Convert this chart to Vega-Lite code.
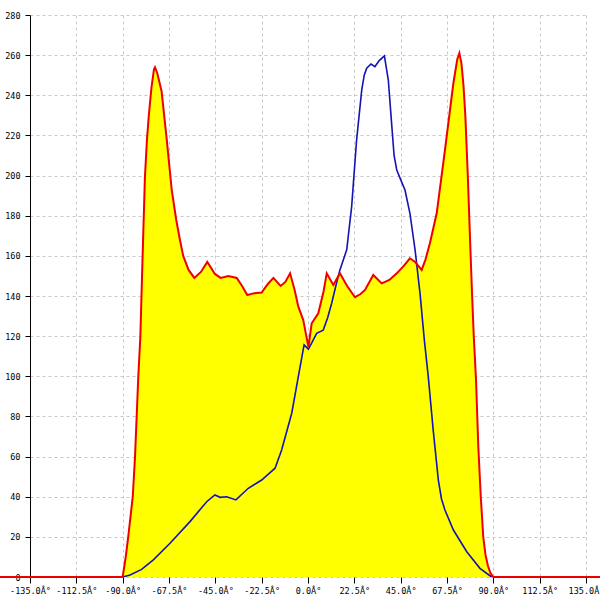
{
  "$schema": "https://vega.github.io/schema/vega-lite/v6.json",
  "width": 556,
  "height": 562,
  "autosize": {"type": "none"},
  "padding": {"left": 30, "top": 15, "right": 14, "bottom": 23},
  "background": "white",
  "config": {
    "view": {"stroke": null},
    "axis": {
      "labelFont": "DejaVu Sans Mono",
      "labelFontSize": 8.5,
      "labelColor": "#000000",
      "tickColor": "#000000",
      "domainColor": "#000000",
      "gridColor": "#c8c8c8",
      "gridDash": [3, 3],
      "gridWidth": 1,
      "zindex": 1
    }
  },
  "datasets": {
    "red": [
      {"x": -150, "y": 0}, {"x": -135, "y": 0}, {"x": -90, "y": 0},
      {"x": -88.5, "y": 10}, {"x": -87.3, "y": 20}, {"x": -85.1, "y": 40}, {"x": -84, "y": 60},
      {"x": -83.2, "y": 80}, {"x": -82.4, "y": 100}, {"x": -81.4, "y": 120},
      {"x": -80.6, "y": 150}, {"x": -80, "y": 171}, {"x": -79.2, "y": 199},
      {"x": -78.2, "y": 218}, {"x": -77.3, "y": 230}, {"x": -76, "y": 244}, {"x": -74.8, "y": 253}, {"x": -74.3, "y": 254},
      {"x": -73.2, "y": 251}, {"x": -71.1, "y": 242}, {"x": -68.6, "y": 218},
      {"x": -66.2, "y": 193}, {"x": -64, "y": 178}, {"x": -62.2, "y": 168},
      {"x": -60.6, "y": 160}, {"x": -58, "y": 153}, {"x": -55.2, "y": 149},
      {"x": -52, "y": 152}, {"x": -48.9, "y": 157}, {"x": -45.2, "y": 151},
      {"x": -42.4, "y": 149}, {"x": -38.7, "y": 150}, {"x": -34.6, "y": 149},
      {"x": -32, "y": 145}, {"x": -29.5, "y": 140.5}, {"x": -26.6, "y": 141.3},
      {"x": -22.5, "y": 141.7}, {"x": -19.5, "y": 146}, {"x": -16.8, "y": 149},
      {"x": -13.3, "y": 145}, {"x": -11, "y": 147}, {"x": -8.7, "y": 151.3},
      {"x": -6.5, "y": 143}, {"x": -4.7, "y": 134.7}, {"x": -2.3, "y": 128},
      {"x": -1, "y": 121}, {"x": 0.2, "y": 114.7}, {"x": 1.8, "y": 126.4},
      {"x": 5, "y": 131.4}, {"x": 7.5, "y": 142}, {"x": 9.1, "y": 151.3},
      {"x": 12.3, "y": 145.5}, {"x": 15.5, "y": 151.3}, {"x": 19, "y": 145},
      {"x": 22.8, "y": 139.4}, {"x": 25.5, "y": 141}, {"x": 27.7, "y": 143},
      {"x": 31.7, "y": 150.5}, {"x": 35.8, "y": 146.3}, {"x": 39.5, "y": 148},
      {"x": 43.1, "y": 151.3}, {"x": 46.5, "y": 155}, {"x": 49.5, "y": 158.8},
      {"x": 52, "y": 157}, {"x": 55.2, "y": 153}, {"x": 57, "y": 158},
      {"x": 59.2, "y": 166.3}, {"x": 62.5, "y": 181.2}, {"x": 66.5, "y": 212.7},
      {"x": 70.6, "y": 246}, {"x": 72.5, "y": 258}, {"x": 73.5, "y": 261},
      {"x": 74.5, "y": 256}, {"x": 75.5, "y": 245}, {"x": 76.4, "y": 230}, {"x": 77.6, "y": 200}, {"x": 78.7, "y": 168},
      {"x": 79.7, "y": 140}, {"x": 80.5, "y": 120}, {"x": 81.6, "y": 98}, {"x": 82.7, "y": 65},
      {"x": 83.9, "y": 40}, {"x": 85.1, "y": 20}, {"x": 86.2, "y": 11}, {"x": 87.4, "y": 5.5}, {"x": 88.6, "y": 2},
      {"x": 90, "y": 0}, {"x": 135, "y": 0}, {"x": 145, "y": 0}
    ],
    "blue": [
      {"x": -90, "y": 0}, {"x": -86.4, "y": 1}, {"x": -80.8, "y": 3.8},
      {"x": -75.1, "y": 8.5}, {"x": -67, "y": 16.8}, {"x": -57.3, "y": 27.6},
      {"x": -49.2, "y": 37.5}, {"x": -45.2, "y": 40.9}, {"x": -42.7, "y": 39.7},
      {"x": -39.5, "y": 40}, {"x": -35, "y": 38.4}, {"x": -29, "y": 44.2},
      {"x": -22.5, "y": 48.3}, {"x": -16, "y": 54.2}, {"x": -12.8, "y": 63.3},
      {"x": -7.9, "y": 81.6}, {"x": -4.7, "y": 99.8}, {"x": -1.9, "y": 115.6},
      {"x": 0.2, "y": 113.5}, {"x": 2, "y": 117}, {"x": 4.2, "y": 121.4},
      {"x": 7.4, "y": 123}, {"x": 9.5, "y": 129}, {"x": 11.5, "y": 136.4},
      {"x": 13.5, "y": 145}, {"x": 15.5, "y": 153}, {"x": 18.8, "y": 163},
      {"x": 21.2, "y": 184.5}, {"x": 23.6, "y": 217.7}, {"x": 26.1, "y": 242.7},
      {"x": 27.3, "y": 250}, {"x": 28.5, "y": 253.5}, {"x": 30.6, "y": 255.6}, {"x": 32.5, "y": 254.3},
      {"x": 34.6, "y": 257.3}, {"x": 37.1, "y": 259.6}, {"x": 39, "y": 247.6},
      {"x": 40.6, "y": 226}, {"x": 41.8, "y": 210}, {"x": 43.1, "y": 202.8},
      {"x": 45, "y": 198}, {"x": 47.1, "y": 192.8}, {"x": 49.5, "y": 181.2},
      {"x": 52, "y": 163}, {"x": 54.4, "y": 141.3}, {"x": 56.5, "y": 118},
      {"x": 58.4, "y": 99.8}, {"x": 60.8, "y": 73.2}, {"x": 63.3, "y": 48.3},
      {"x": 64.8, "y": 39}, {"x": 66.5, "y": 33.4}, {"x": 70.6, "y": 23.4}, {"x": 77.1, "y": 12.6},
      {"x": 83.5, "y": 4.3}, {"x": 89.2, "y": 0}
    ]
  },
  "encoding": {
    "x": {
      "field": "x",
      "type": "quantitative",
      "scale": {"domain": [-135, 135], "nice": false, "zero": false},
      "axis": {
        "title": null,
        "values": [-135, -112.5, -90, -67.5, -45, -22.5, 0, 22.5, 45, 67.5, 90, 112.5, 135],
        "labelExpr": "(datum.value < 0 ? '-' : '') + format(abs(datum.value), '.1f') + 'Â°'",
        "domain": false,
        "tickSize": 6,
        "labelPadding": 3,
        "labelFlush": false,
        "labelOverlap": false
      }
    },
    "y": {
      "field": "y",
      "type": "quantitative",
      "scale": {"domain": [0, 280], "nice": false},
      "axis": {
        "title": null,
        "values": [0, 20, 40, 60, 80, 100, 120, 140, 160, 180, 200, 220, 240, 260, 280],
        "tickSize": 5,
        "labelPadding": 5,
        "labelFlush": false,
        "labelOverlap": false
      }
    }
  },
  "layer": [
    {
      "data": {"name": "red"},
      "mark": {"type": "area", "color": "#ffff00", "clip": false}
    },
    {
      "data": {"name": "blue"},
      "mark": {"type": "line", "color": "#1414b4", "strokeWidth": 1.6}
    },
    {
      "data": {"name": "red"},
      "mark": {"type": "line", "color": "#ee0000", "strokeWidth": 2, "clip": false}
    },
    {
      "data": {"values": [{}]},
      "mark": {"type": "rule", "color": "#000000", "strokeWidth": 1},
      "encoding": {"x": {"datum": 135}, "y": null}
    }
  ]
}
